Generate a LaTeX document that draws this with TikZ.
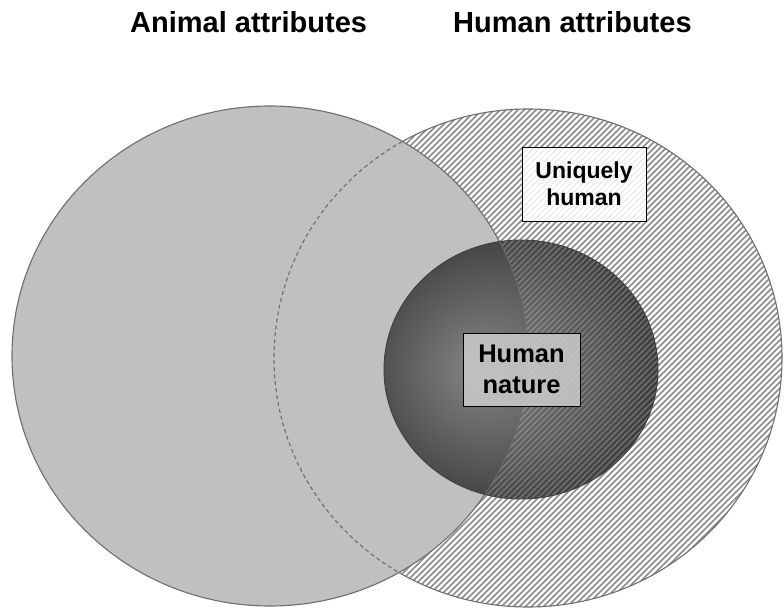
\documentclass[tikz,border=0pt]{standalone}
\usepackage{fontspec}
\setmainfont{Liberation Sans}
\definecolor{lgray}{HTML}{C0C0C0}
\definecolor{outl}{HTML}{6E6E6E}
\definecolor{hatchc}{HTML}{8C8C8C}
\definecolor{hnin}{HTML}{858585}
\definecolor{hnout}{HTML}{3E3E3E}
\definecolor{boxgray}{HTML}{CBCBCB}
\pgfdeclareradialshading{hnshade}{\pgfpoint{-8bp}{0bp}}{color(0bp)=(hnin); color(28bp)=(hnout); color(50bp)=(hnout)}
\tikzset{
  outline/.style={draw=outl, line width=1.1pt},
  hatchline/.style={draw=hatchc, line width=1.6pt},
  innerhatch/.style={draw=white, line width=1.6pt, opacity=0.22},
  titletext/.style={font=\fontsize{29}{34}\selectfont\bfseries, inner sep=0pt, anchor=base west},
  labelbox/.style={draw=black, line width=0.8pt, align=center, inner sep=0pt},
}
\begin{document}
\begin{tikzpicture}[x=1pt, y=-1pt]
\useasboundingbox (0,0) rectangle (784,609);
% Right ellipse (human attributes) hatched
\fill[white] (528,358) ellipse [x radius=254, y radius=249];
\begin{scope}
  \clip (528,358) ellipse [x radius=254, y radius=249];
  \foreach \c in {370,376,...,1410} {
    \draw[hatchline] (\c-640,640) -- (\c,0);
  }
\end{scope}
\draw[outline] (528,358) ellipse [x radius=254, y radius=249];
% Left ellipse (animal attributes)
\fill[lgray] (270,356) ellipse [x radius=258, y radius=250];
\draw[outline] (270,356) ellipse [x radius=258, y radius=250];
\begin{scope}
  \clip (270,356) ellipse [x radius=258, y radius=250];
  \draw[outline, dash pattern=on 4pt off 3pt] (528,358) ellipse [x radius=254, y radius=249];
\end{scope}
% Inner circle (human nature)
\shade[shading=hnshade] (521,369.5) ellipse [x radius=137, y radius=129.5];
\begin{scope}
  \clip (521,369.5) ellipse [x radius=137, y radius=129.5];
  \foreach \c in {370,376,...,1410} {
    \draw[innerhatch] (\c-640,640) -- (\c,0);
  }
  \begin{scope}
    \clip (270,356) ellipse [x radius=258, y radius=250];
    \shade[shading=hnshade] (521,369.5) ellipse [x radius=137, y radius=129.5];
  \end{scope}
  \draw[draw=outl, line width=0.7pt] (270,356) ellipse [x radius=258, y radius=250];
\end{scope}
\draw[draw=black!75, line width=0.9pt] (521,369.5) ellipse [x radius=137, y radius=129.5];
% Titles
\node[titletext] (animal) at (130,33) {Animal attributes};
\node[titletext] (human) at (453,33) {Human attributes};
% Boxes
\node[labelbox, fill=boxgray, fill opacity=0.85, text opacity=1, minimum width=117pt, minimum height=73pt,
      font=\fontsize{25.5}{31}\selectfont\bfseries] (nature) at (521.5,369.5) {Human\\nature};
\node[labelbox, fill=white, fill opacity=0.85, text opacity=1, minimum width=124pt, minimum height=74pt,
      font=\fontsize{23}{27}\selectfont\bfseries] (unique) at (584,184) {Uniquely\\human};
\end{tikzpicture}
\end{document}
